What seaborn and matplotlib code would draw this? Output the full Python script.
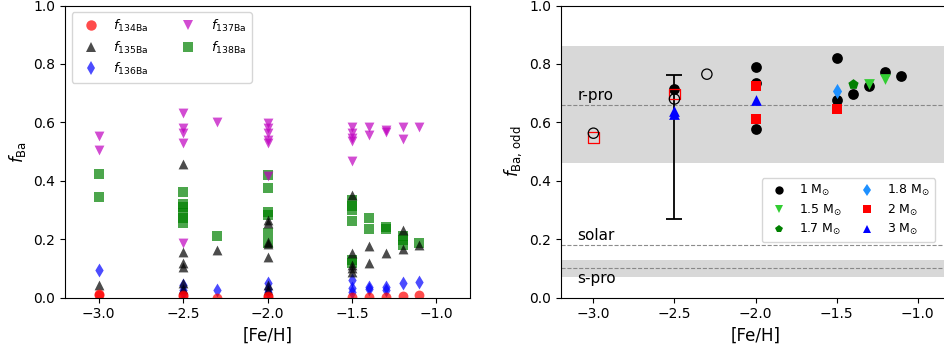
import matplotlib
matplotlib.use("Agg")
import matplotlib.pyplot as plt
import seaborn as sns
import pandas as pd
from matplotlib.lines import Line2D

# ---------------- Left panel data (isotope fractions) ----------------
feh_134 = [-3.0, -3.0, -2.5, -2.5, -2.3, -2.0, -2.0, -1.5, -1.4, -1.3, -1.2, -1.1]
f_134 = [0.013, 0.008, 0.010, 0.006, 0.0, 0.005, 0.002, 0.003, 0.003, 0.003, 0.005, 0.008]

feh_135 = [-3.0, -2.5, -2.5, -2.5, -2.5, -2.5, -2.5, -2.3,
           -2.0, -2.0, -2.0, -2.0, -2.0, -2.0, -2.0,
           -1.5, -1.5, -1.5, -1.5, -1.5, -1.4, -1.4, -1.3, -1.2, -1.2, -1.1]
f_135 = [0.043, 0.457, 0.158, 0.120, 0.106, 0.051, 0.030, 0.163,
         0.266, 0.255, 0.192, 0.183, 0.140, 0.043, 0.026,
         0.352, 0.152, 0.112, 0.100, 0.089, 0.177, 0.118, 0.154, 0.232, 0.166, 0.180]

feh_136 = [-3.0, -2.5, -2.5, -2.5, -2.3, -2.0, -2.0, -2.0,
           -1.5, -1.5, -1.5, -1.4, -1.4, -1.3, -1.3, -1.2, -1.1]
f_136 = [0.094, 0.043, 0.026, 0.015, 0.026, 0.049, 0.031, 0.020,
         0.061, 0.032, 0.021, 0.038, 0.030, 0.038, 0.028, 0.051, 0.054]

feh_137 = [-3.0, -3.0, -2.5, -2.5, -2.5, -2.5, -2.5, -2.3,
           -2.0, -2.0, -2.0, -2.0, -2.0, -2.0,
           -1.5, -1.5, -1.5, -1.5, -1.5, -1.4, -1.4, -1.3, -1.3, -1.2, -1.2, -1.1]
f_137 = [0.555, 0.506, 0.631, 0.582, 0.563, 0.529, 0.188, 0.600,
         0.597, 0.580, 0.563, 0.540, 0.529, 0.417,
         0.583, 0.563, 0.546, 0.537, 0.469, 0.583, 0.557, 0.574, 0.568, 0.583, 0.542, 0.583]

feh_138 = [-3.0, -3.0, -2.5, -2.5, -2.5, -2.5, -2.5, -2.5, -2.3,
           -2.0, -2.0, -2.0, -2.0, -2.0, -2.0,
           -1.5, -1.5, -1.5, -1.5, -1.5, -1.5, -1.4, -1.4, -1.3, -1.3,
           -1.2, -1.2, -1.2, -1.1]
f_138 = [0.423, 0.345, 0.361, 0.320, 0.312, 0.290, 0.272, 0.257, 0.211,
         0.420, 0.375, 0.295, 0.283, 0.223, 0.186,
         0.335, 0.314, 0.300, 0.264, 0.129, 0.118, 0.272, 0.234, 0.241, 0.234,
         0.211, 0.197, 0.182, 0.188]

iso_labels = [r"$f_{\rm 134Ba}$", r"$f_{\rm 135Ba}$", r"$f_{\rm 136Ba}$",
              r"$f_{\rm 137Ba}$", r"$f_{\rm 138Ba}$"]

# ---------------- Right panel data (odd fraction vs mass) ----------------
m1_feh = [-2.5, -2.0, -2.0, -2.0, -1.5, -1.5, -1.4, -1.3, -1.2, -1.1]
m1_f = [0.715, 0.788, 0.734, 0.577, 0.820, 0.675, 0.697, 0.725, 0.772, 0.759]
m15_feh = [-1.3, -1.2]
m15_f = [0.730, 0.749]
m17_feh = [-1.4]
m17_f = [0.731]
m18_feh = [-1.5]
m18_f = [0.709]
m2_feh = [-2.0, -2.0, -1.5]
m2_f = [0.725, 0.612, 0.646]
m3_feh = [-2.5, -2.5, -2.0]
m3_f = [0.640, 0.630, 0.677]
open_c_feh = [-3.0, -2.5, -2.3]
open_c_f = [0.563, 0.680, 0.765]
open_s_feh = [-3.0, -2.5]
open_s_f = [0.548, 0.697]
err_feh = [-2.5]
err_lo = [0.27]
err_hi = [0.763]

mass_labels = [r"1 M$_{\odot}$", r"1.5 M$_{\odot}$", r"1.7 M$_{\odot}$",
               r"1.8 M$_{\odot}$", r"2 M$_{\odot}$", r"3 M$_{\odot}$"]

r_band = (0.46, 0.86)
r_line = 0.66
s_band = (0.07, 0.13)
s_line = 0.10
solar_line = 0.18

# ---------------- Figure ----------------
fig = plt.figure(figsize=(9.44, 3.49), dpi=100)
ax1 = fig.add_axes([65 / 944, (349 - 297.7) / 349, 405 / 944, 292.2 / 349])
ax2 = fig.add_axes([561 / 944, (349 - 297.7) / 349, 389 / 944, 292.2 / 349])

# left panel
left_sets = [
    (feh_138, f_138, "green", "s"),
    (feh_137, f_137, "m", "v"),
    (feh_136, f_136, "b", "d"),
    (feh_135, f_135, "k", "^"),
    (feh_134, f_134, "r", "o"),
]
for xs, ys, col, mk in left_sets:
    df = pd.DataFrame({"x": xs, "y": ys})
    sns.scatterplot(data=df, x="x", y="y", ax=ax1, color=col, marker=mk,
                    s=50, alpha=0.7, linewidth=0, legend=False)

handles1 = [
    Line2D([], [], ls="", marker="o", color="r", alpha=0.7, markersize=7.5, mew=0),
    Line2D([], [], ls="", marker="^", color="k", alpha=0.7, markersize=7.5, mew=0),
    Line2D([], [], ls="", marker="d", color="b", alpha=0.7, markersize=7.5, mew=0),
    Line2D([], [], ls="", marker="v", color="m", alpha=0.7, markersize=7.5, mew=0),
    Line2D([], [], ls="", marker="s", color="green", alpha=0.7, markersize=7.5, mew=0),
]
ax1.legend(handles1, iso_labels, ncol=2, loc="upper left", fontsize=9.5,
           columnspacing=2.0, handletextpad=0.7, borderpad=0.45,
           labelspacing=0.4)
ax1.set_xlim(-3.2, -0.8)
ax1.set_ylim(0, 1)
ax1.set_xticks([-3.0, -2.5, -2.0, -1.5, -1.0])
ax1.set_xlabel("[Fe/H]", fontsize=12)
ax1.set_ylabel(r"$f_{\rm Ba}$", fontsize=12)

# right panel
ax2.axhspan(r_band[0], r_band[1], color="gray", alpha=0.3, lw=0, zorder=0)
ax2.axhspan(s_band[0], s_band[1], color="gray", alpha=0.3, lw=0, zorder=0)
for yv in (r_line, s_line, solar_line):
    ax2.axhline(yv, color="gray", ls="--", lw=0.8, alpha=0.9, zorder=1)
ax2.text(-3.1, r_line + 0.008, "r-pro", fontsize=11, va="bottom", ha="left")
ax2.text(-3.1, solar_line + 0.008, "solar", fontsize=11, va="bottom", ha="left")
ax2.text(-3.1, s_line - 0.008, "s-pro", fontsize=11, va="top", ha="left")

ax2.errorbar(err_feh, [(a + b) / 2 for a, b in zip(err_lo, err_hi)],
             yerr=[[(b - a) / 2 for a, b in zip(err_lo, err_hi)]] * 2,
             fmt="none", ecolor="k", elinewidth=1.3, capsize=6, capthick=1.3, zorder=2)

right_sets = [
    (m1_feh, m1_f, "k", "o"),
    (m15_feh, m15_f, "limegreen", "v"),
    (m17_feh, m17_f, "green", "p"),
    (m18_feh, m18_f, "dodgerblue", "d"),
    (m2_feh, m2_f, "r", "s"),
    (m3_feh, m3_f, "b", "^"),
]
for xs, ys, col, mk in right_sets:
    df = pd.DataFrame({"x": xs, "y": ys})
    sns.scatterplot(data=df, x="x", y="y", ax=ax2, color=col, marker=mk,
                    s=60, linewidth=0, legend=False, zorder=3)

sns.scatterplot(data=pd.DataFrame({"x": open_s_feh, "y": open_s_f}), x="x", y="y",
                ax=ax2, marker="s", s=55, facecolor="none", edgecolor="r",
                linewidth=0.9, legend=False, zorder=4)
sns.scatterplot(data=pd.DataFrame({"x": open_c_feh, "y": open_c_f}), x="x", y="y",
                ax=ax2, marker="o", s=55, facecolor="none", edgecolor="k",
                linewidth=0.9, legend=False, zorder=5)

handles2 = [Line2D([], [], ls="", marker=mk, color=col, markersize=6, mew=0)
            for _, _, col, mk in right_sets]
ax2.legend(handles2, mass_labels,
           ncol=2, loc="upper left", bbox_to_anchor=(0.516, 0.409),
           borderaxespad=0, fontsize=9, columnspacing=1.0, handletextpad=0.6,
           labelspacing=0.35, borderpad=0.4)
ax2.set_xlim(-3.2, -0.8)
ax2.set_ylim(0, 1)
ax2.set_xticks([-3.0, -2.5, -2.0, -1.5, -1.0])
ax2.set_xlabel("[Fe/H]", fontsize=12)
ax2.set_ylabel(r"$f_{\rm Ba,\,odd}$", fontsize=12)

fig.savefig("out.png", dpi=100)
